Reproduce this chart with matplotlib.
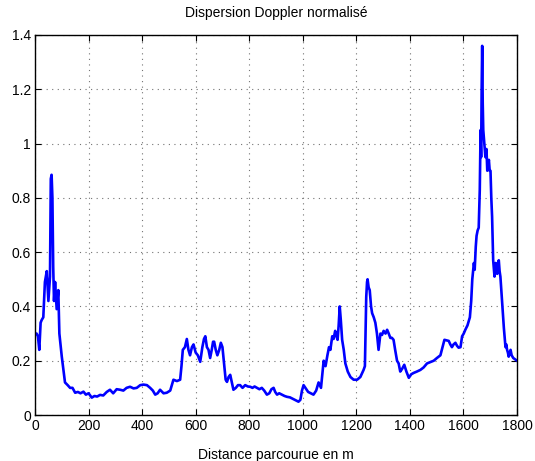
import matplotlib
matplotlib.use("Agg")
import matplotlib.pyplot as plt

plt.rcParams['font.family'] = ['Liberation Sans', 'DejaVu Sans']

distance = [0, 6, 11, 16, 21, 25, 31, 37, 44, 50, 56, 59, 62, 65, 68, 71, 75, 81, 87, 91,
            100, 112, 122, 131, 140, 150, 160, 170, 181, 190, 200, 212, 222, 232, 243, 255,
            268, 280, 292, 305, 318, 330, 342, 355, 368, 380, 393, 405, 418, 430, 440, 449,
            458, 467, 480, 492, 505, 517, 530, 542, 547, 552, 560, 567, 573, 579, 586, 592,
            600, 608, 617, 625, 631, 636, 642, 648, 654, 660, 665, 669, 675, 681, 688, 694,
            700, 707, 712, 717, 723, 729, 735, 741, 750, 758, 766, 775, 785, 795, 804, 812,
            820, 829, 838, 847, 856, 866, 875, 883, 891, 897, 904, 912, 922, 932, 941, 952,
            962, 972, 984, 991, 997, 1003, 1010, 1020, 1030, 1040, 1050, 1059, 1068, 1078,
            1085, 1092, 1098, 1103, 1110, 1115, 1121, 1126, 1130, 1134, 1138, 1142, 1147,
            1153, 1159, 1168, 1178, 1190, 1203, 1215, 1227, 1232, 1237, 1240, 1242, 1246,
            1250, 1255, 1259, 1265, 1271, 1277, 1283, 1290, 1296, 1302, 1309, 1315, 1321,
            1327, 1333, 1339, 1345, 1352, 1358, 1364, 1371, 1379, 1387, 1396, 1405, 1414,
            1426, 1439, 1451, 1464, 1476, 1489, 1501, 1514, 1522, 1529, 1537, 1545, 1551,
            1557, 1563, 1570, 1576, 1582, 1589, 1595, 1601, 1607, 1615, 1624, 1629, 1633,
            1639, 1642, 1646, 1649, 1653, 1657, 1661, 1664, 1666, 1668, 1670, 1672, 1674,
            1678, 1682, 1686, 1689, 1692, 1695, 1698, 1701, 1704, 1707, 1711, 1716, 1720,
            1723, 1726, 1729, 1732, 1735, 1738, 1742, 1745, 1751, 1757, 1760, 1763, 1766,
            1769, 1773, 1776, 1780, 1786, 1793, 1800]

dispersion = [0.30, 0.30, 0.29, 0.24, 0.34, 0.35, 0.36, 0.49, 0.53, 0.42, 0.51, 0.87, 0.885, 0.80, 0.545, 0.42, 0.49, 0.39, 0.46, 0.30,
              0.215, 0.12, 0.11, 0.10, 0.10, 0.082, 0.085, 0.08, 0.086, 0.075, 0.08, 0.064, 0.07, 0.068, 0.074, 0.072,
              0.085, 0.093, 0.08, 0.095, 0.093, 0.09, 0.10, 0.104, 0.098, 0.10, 0.11, 0.112, 0.11, 0.10, 0.09, 0.075,
              0.08, 0.093, 0.08, 0.082, 0.09, 0.13, 0.125, 0.13, 0.18, 0.24, 0.25, 0.28, 0.24, 0.22, 0.25, 0.26,
              0.23, 0.22, 0.196, 0.25, 0.28, 0.29, 0.25, 0.24, 0.21, 0.24, 0.27, 0.27, 0.24, 0.22, 0.24, 0.266,
              0.25, 0.18, 0.13, 0.122, 0.14, 0.148, 0.12, 0.093, 0.10, 0.11, 0.11, 0.10, 0.11, 0.105, 0.104, 0.10,
              0.105, 0.10, 0.095, 0.10, 0.09, 0.075, 0.08, 0.095, 0.10, 0.085, 0.075, 0.08, 0.075, 0.07, 0.067, 0.065,
              0.06, 0.055, 0.049, 0.056, 0.09, 0.11, 0.10, 0.085, 0.08, 0.075, 0.09, 0.12, 0.10, 0.20,
              0.18, 0.22, 0.25, 0.24, 0.29, 0.28, 0.31, 0.29, 0.277, 0.33, 0.40, 0.35, 0.277,
              0.24, 0.19, 0.16, 0.14, 0.13, 0.13, 0.14, 0.166, 0.18, 0.435, 0.49, 0.50, 0.47,
              0.46, 0.40, 0.375, 0.36, 0.34, 0.30, 0.24, 0.30, 0.295, 0.31, 0.30, 0.314, 0.30,
              0.284, 0.284, 0.277, 0.24, 0.20, 0.19, 0.16, 0.17, 0.185, 0.16, 0.137, 0.15, 0.155,
              0.16, 0.166, 0.175, 0.19, 0.195, 0.20, 0.21, 0.22, 0.25, 0.277, 0.275, 0.273, 0.26,
              0.25, 0.26, 0.266, 0.255, 0.248, 0.25, 0.29, 0.30, 0.314, 0.33, 0.36, 0.42, 0.50,
              0.56, 0.535, 0.62, 0.66, 0.68, 0.69, 0.83, 1.05, 0.95, 1.20, 1.36, 1.15, 1.05,
              1.00, 0.95, 0.98, 0.90, 0.92, 0.94, 0.90, 0.90, 0.80, 0.73, 0.57, 0.51, 0.56,
              0.55, 0.52, 0.56, 0.57, 0.53, 0.51, 0.45, 0.41, 0.32, 0.25, 0.26, 0.24, 0.23,
              0.215, 0.23, 0.24, 0.22, 0.21, 0.205, 0.20]

xticks = [0, 200, 400, 600, 800, 1000, 1200, 1400, 1600, 1800]
yticks = [0, 0.2, 0.4, 0.6, 0.8, 1.0, 1.2, 1.4]
ytick_labels = ['0', '0.2', '0.4', '0.6', '0.8', '1', '1.2', '1.4']

fig = plt.figure(figsize=(5.35, 4.61), dpi=100)
ax = fig.add_axes([35/535, 1 - 415/461, 482/535, 380/461])

ax.plot(distance, dispersion, color='#0000FF', linewidth=1.9)

ax.set_xlim(0, 1800)
ax.set_ylim(0, 1.4)
ax.set_xticks(xticks)
ax.set_xticklabels([str(t) for t in xticks])
ax.set_yticks(yticks)
ax.set_yticklabels(ytick_labels)

ax.grid(True, linestyle=(0, (1, 4)), color='0.45', linewidth=0.8)
ax.tick_params(direction='in', top=True, right=True, length=4, width=0.8,
               labelsize=10, pad=3)
for s in ax.spines.values():
    s.set_linewidth(1.0)

ax.set_title('Dispersion Doppler normalisé', fontsize=10, pad=13)
ax.set_xlabel('Distance parcourue en m', fontsize=10, labelpad=11)

fig.savefig('out.png', dpi=100)
